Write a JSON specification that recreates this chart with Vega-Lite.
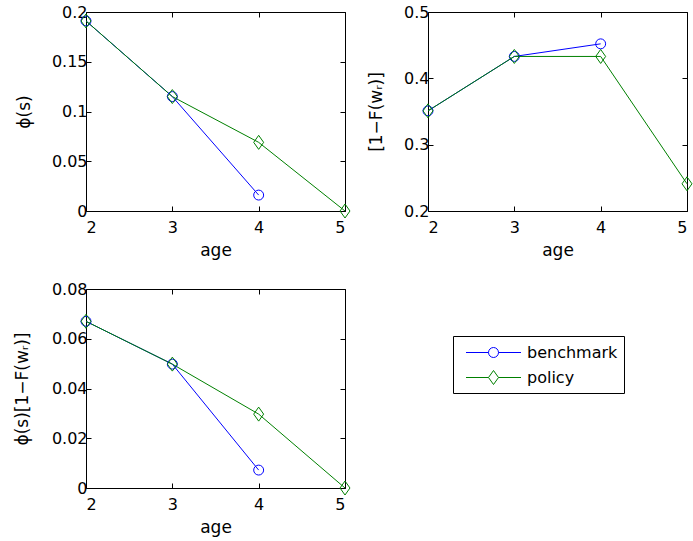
{
  "$schema": "https://vega.github.io/schema/vega-lite/v6.json",
  "padding": {"left": 13, "top": 4, "right": 5, "bottom": 5},
  "background": "white",
  "config": {
    "view": {"stroke": null},
    "font": "DejaVu Sans",
    "axis": {"grid": false, "domainColor": "black", "domainWidth": 1, "tickColor": "black", "tickSize": -5, "tickWidth": 1, "labelFont": "DejaVu Sans", "labelFontSize": 16, "labelColor": "black", "titleFont": "DejaVu Sans", "titleFontSize": 17, "titleFontWeight": "normal", "titleColor": "black", "labelPadding": 4},
    "axisBottom": {"labelPadding": 13},
    "legend": {"strokeColor": "black", "strokeWidth": 1, "fillColor": "white", "padding": 6, "symbolOffset": 24, "symbolSize": 400, "symbolStrokeWidth": 1, "labelFont": "DejaVu Sans", "labelFontSize": 16, "labelColor": "black", "labelOffset": 23, "rowPadding": 6}
  },
  "datasets": {
    "d": [
      {"panel": "p1", "age": 2, "series": "benchmark", "value": 0.191},
      {"panel": "p1", "age": 3, "series": "benchmark", "value": 0.115},
      {"panel": "p1", "age": 4, "series": "benchmark", "value": 0.016},
      {"panel": "p1", "age": 2, "series": "policy", "value": 0.191},
      {"panel": "p1", "age": 3, "series": "policy", "value": 0.115},
      {"panel": "p1", "age": 4, "series": "policy", "value": 0.069},
      {"panel": "p1", "age": 5, "series": "policy", "value": 0.0},
      {"panel": "p2", "age": 2, "series": "benchmark", "value": 0.351},
      {"panel": "p2", "age": 3, "series": "benchmark", "value": 0.433},
      {"panel": "p2", "age": 4, "series": "benchmark", "value": 0.452},
      {"panel": "p2", "age": 2, "series": "policy", "value": 0.351},
      {"panel": "p2", "age": 3, "series": "policy", "value": 0.433},
      {"panel": "p2", "age": 4, "series": "policy", "value": 0.433},
      {"panel": "p2", "age": 5, "series": "policy", "value": 0.241},
      {"panel": "p3", "age": 2, "series": "benchmark", "value": 0.067},
      {"panel": "p3", "age": 3, "series": "benchmark", "value": 0.0498},
      {"panel": "p3", "age": 4, "series": "benchmark", "value": 0.0072},
      {"panel": "p3", "age": 2, "series": "policy", "value": 0.067},
      {"panel": "p3", "age": 3, "series": "policy", "value": 0.0498},
      {"panel": "p3", "age": 4, "series": "policy", "value": 0.0297},
      {"panel": "p3", "age": 5, "series": "policy", "value": 0.0}
    ]
  },
  "columns": 2,
  "spacing": {"row": 78, "column": 83},
  "bounds": "flush",
  "concat": [
    {
      "width": 259, "height": 199,
      "data": {"name": "d"},
      "transform": [{"filter": {"field": "panel", "equal": "p1"}}],
      "layer": [
        {"mark": {"type": "line", "strokeWidth": 1, "clip": false},
         "encoding": {
           "x": {"field": "age", "type": "quantitative", "scale": {"domain": [2, 5], "nice": false, "zero": false}, "axis": {"orient": "bottom", "values": [2, 3, 4, 5], "format": "d", "title": "age", "titleY": 31}},
           "y": {"field": "value", "type": "quantitative", "scale": {"domain": [0, 0.2], "nice": false, "zero": false}, "axis": {"orient": "left", "values": [0, 0.05, 0.1, 0.15, 0.2], "format": "~g", "title": "ϕ(s)", "titleX": -53, "titleY": 99.5}},
           "color": {"field": "series", "type": "nominal", "scale": {"domain": ["benchmark", "policy"], "range": ["#0000ff", "#008000"]},
             "legend": {"title": null, "orient": "none", "legendX": 367, "legendY": 324,
               "encode": {"symbols": {"update": {"shape": {"signal": "datum.value === 'benchmark' ? 'M-2.75,0L-0.5,0M0.5,0L2.75,0M0.5,0A0.5,0.5,0,1,1,-0.5,0A0.5,0.5,0,1,1,0.5,0' : 'M-2.75,0L-0.5,0M0.5,0L2.75,0M0,-0.7L0.5,0L0,0.7L-0.5,0Z'"}, "fill": {"value": "transparent"}, "strokeWidth": {"value": 1}, "opacity": {"value": 1}}}}}}
         }},
        {"transform": [{"filter": {"field": "series", "equal": "benchmark"}}],
         "mark": {"type": "point", "filled": false, "size": 196, "strokeWidth": 1, "opacity": 1, "clip": false, "color": "#0000ff", "shape": "M0.71,0A0.71,0.71,0,1,1,-0.71,0A0.71,0.71,0,1,1,0.71,0Z"},
         "encoding": {
           "x": {"field": "age", "type": "quantitative", "axis": {"orient": "top", "values": [2, 3, 4, 5], "labels": false, "title": null}},
           "y": {"field": "value", "type": "quantitative", "axis": {"orient": "right", "values": [0, 0.05, 0.1, 0.15, 0.2], "labels": false, "title": null}}
         }},
        {"transform": [{"filter": {"field": "series", "equal": "policy"}}],
         "mark": {"type": "point", "filled": false, "size": 196, "strokeWidth": 1, "opacity": 1, "clip": false, "color": "#008000", "shape": "M0,-1L0.71,0L0,1L-0.71,0Z"},
         "encoding": {
           "x": {"field": "age", "type": "quantitative", "axis": null},
           "y": {"field": "value", "type": "quantitative", "axis": null}
         }}
      ],
      "resolve": {"axis": {"x": "independent", "y": "independent"}}
    },
    {
      "width": 259, "height": 199,
      "data": {"name": "d"},
      "transform": [{"filter": {"field": "panel", "equal": "p2"}}],
      "layer": [
        {"mark": {"type": "line", "strokeWidth": 1, "clip": false},
         "encoding": {
           "x": {"field": "age", "type": "quantitative", "scale": {"domain": [2, 5], "nice": false, "zero": false}, "axis": {"orient": "bottom", "values": [2, 3, 4, 5], "format": "d", "title": "age", "titleY": 31}},
           "y": {"field": "value", "type": "quantitative", "scale": {"domain": [0.2, 0.5], "nice": false, "zero": false}, "axis": {"orient": "left", "values": [0.2, 0.3, 0.4, 0.5], "format": "~g", "title": "[1−F(wᵣ)]", "titleX": -43, "titleY": 99.5}},
           "color": {"field": "series", "type": "nominal"}
         }},
        {"transform": [{"filter": {"field": "series", "equal": "benchmark"}}],
         "mark": {"type": "point", "filled": false, "size": 196, "strokeWidth": 1, "opacity": 1, "clip": false, "color": "#0000ff", "shape": "M0.71,0A0.71,0.71,0,1,1,-0.71,0A0.71,0.71,0,1,1,0.71,0Z"},
         "encoding": {
           "x": {"field": "age", "type": "quantitative", "axis": {"orient": "top", "values": [2, 3, 4, 5], "labels": false, "title": null}},
           "y": {"field": "value", "type": "quantitative", "axis": {"orient": "right", "values": [0.2, 0.3, 0.4, 0.5], "labels": false, "title": null}}
         }},
        {"transform": [{"filter": {"field": "series", "equal": "policy"}}],
         "mark": {"type": "point", "filled": false, "size": 196, "strokeWidth": 1, "opacity": 1, "clip": false, "color": "#008000", "shape": "M0,-1L0.71,0L0,1L-0.71,0Z"},
         "encoding": {
           "x": {"field": "age", "type": "quantitative", "axis": null},
           "y": {"field": "value", "type": "quantitative", "axis": null}
         }}
      ],
      "resolve": {"axis": {"x": "independent", "y": "independent"}}
    },
    {
      "width": 259, "height": 199,
      "data": {"name": "d"},
      "transform": [{"filter": {"field": "panel", "equal": "p3"}}],
      "layer": [
        {"mark": {"type": "line", "strokeWidth": 1, "clip": false},
         "encoding": {
           "x": {"field": "age", "type": "quantitative", "scale": {"domain": [2, 5], "nice": false, "zero": false}, "axis": {"orient": "bottom", "values": [2, 3, 4, 5], "format": "d", "title": "age", "titleY": 31}},
           "y": {"field": "value", "type": "quantitative", "scale": {"domain": [0, 0.08], "nice": false, "zero": false}, "axis": {"orient": "left", "values": [0, 0.02, 0.04, 0.06, 0.08], "format": "~g", "title": "ϕ(s)[1−F(wᵣ)]", "titleX": -55, "titleY": 99.5}},
           "color": {"field": "series", "type": "nominal"}
         }},
        {"transform": [{"filter": {"field": "series", "equal": "benchmark"}}],
         "mark": {"type": "point", "filled": false, "size": 196, "strokeWidth": 1, "opacity": 1, "clip": false, "color": "#0000ff", "shape": "M0.71,0A0.71,0.71,0,1,1,-0.71,0A0.71,0.71,0,1,1,0.71,0Z"},
         "encoding": {
           "x": {"field": "age", "type": "quantitative", "axis": {"orient": "top", "values": [2, 3, 4, 5], "labels": false, "title": null}},
           "y": {"field": "value", "type": "quantitative", "axis": {"orient": "right", "values": [0, 0.02, 0.04, 0.06, 0.08], "labels": false, "title": null}}
         }},
        {"transform": [{"filter": {"field": "series", "equal": "policy"}}],
         "mark": {"type": "point", "filled": false, "size": 196, "strokeWidth": 1, "opacity": 1, "clip": false, "color": "#008000", "shape": "M0,-1L0.71,0L0,1L-0.71,0Z"},
         "encoding": {
           "x": {"field": "age", "type": "quantitative", "axis": null},
           "y": {"field": "value", "type": "quantitative", "axis": null}
         }}
      ],
      "resolve": {"axis": {"x": "independent", "y": "independent"}}
    }
  ]
}
